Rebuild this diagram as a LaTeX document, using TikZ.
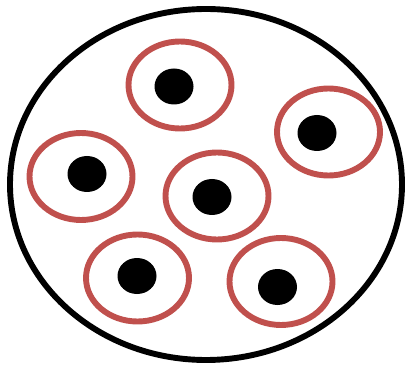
\documentclass[tikz,border=0pt]{standalone}
\usepackage{xcolor}
\usepackage{tikz}
\definecolor{cellred}{HTML}{C0504D}

\begin{document}
\begin{tikzpicture}[x=0.025cm, y=-0.025cm,
    tissue/.style={draw=black, line width=4.2pt},
    membrane/.style={draw=cellred, line width=4.2pt},
    nucleus/.style={fill=black}
]
    \useasboundingbox (0,0) rectangle (408,367);
    % Outer boundary
    \draw[tissue] (206,184.5) ellipse [x radius=196, y radius=175.5];
    
    % Cells: membrane centre / nucleus centre
    \foreach \cx/\cy/\nx/\ny in {180/85/174/86.5, 328.5/132/317/133, 81/176.5/87/174,
        217/196/212/197, 137.5/278/137/276, 281/281.5/277.5/287} {
        \draw[membrane] (\cx,\cy) ellipse [x radius=51.5, y radius=43.5];
        \fill[nucleus] (\nx,\ny) ellipse [x radius=19.5, y radius=18];
    }
    
\end{tikzpicture}
\end{document}
